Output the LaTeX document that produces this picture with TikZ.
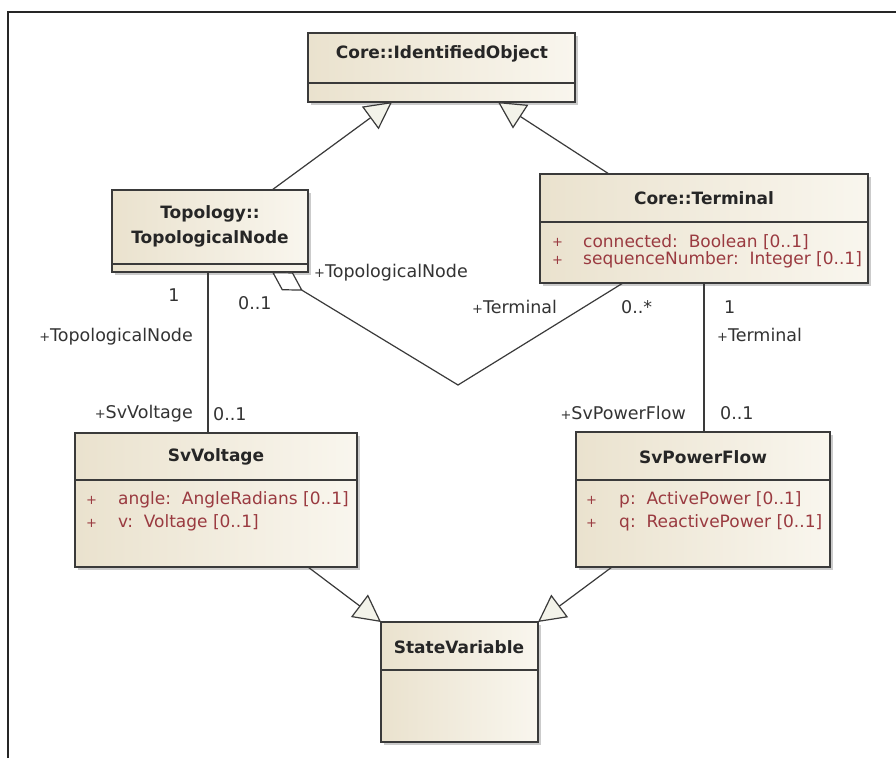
\documentclass[tikz,border=0pt]{standalone}
\usepackage{fontspec}
\setmainfont{DejaVu Sans}
\usetikzlibrary{arrows.meta,shadows,calc}

\definecolor{ink}{HTML}{3A3A3A}
\definecolor{boxA}{HTML}{EAE2CE}
\definecolor{boxB}{HTML}{F9F6EE}
\definecolor{attrred}{HTML}{9A3A40}
\definecolor{headfill}{HTML}{F3F3EA}

% small visibility marker used in front of roles and attributes
\newcommand{\vplus}{{\fontsize{13}{13}\selectfont+}}

\tikzset{
  classbox/.style={draw=ink, line width=1.4pt, left color=boxA, right color=boxB,
    inner sep=0pt, outer sep=0pt, anchor=north west,
    drop shadow={shadow xshift=3pt, shadow yshift=-3pt, fill=black!40, opacity=.5}},
  divider/.style={draw=ink, line width=1.4pt},
  classtitle/.style={font=\bfseries\fontsize{17}{25}\selectfont, text=black!85,
    align=center, inner sep=0pt},
  attrtext/.style={font=\fontsize{17}{19}\selectfont, text=attrred, anchor=west, inner sep=0pt},
  roletext/.style={font=\fontsize{17.5}{19}\selectfont, text=black!80, inner sep=0pt},
  conn/.style={draw=ink, line width=1.2pt},
  gen/.style={conn, -{Triangle[open, length=27pt, width=28pt, fill=headfill]}},
  agg/.style={conn, {Diamond[open, length=36pt, width=21pt, fill=white]}-},
}

\begin{document}
\begin{tikzpicture}[x=1pt, y=-1pt]
  \useasboundingbox (0,0) rectangle (896,758);
  \fill[white] (0,0) rectangle (896,758);

  % outer frame (top and left edges)
  \draw[black!85, line width=2pt] (8,758) -- (8,12) -- (896,12);

  % ---- classes ----
  \node[classbox, minimum width=267pt, minimum height=69pt] (io) at (308,33) {};
  \draw[divider] ([yshift=-50pt]io.north west) -- ([yshift=-50pt]io.north east);
  \node[classtitle] (ioT) at (442,54) {Core::IdentifiedObject};

  \node[classbox, minimum width=196pt, minimum height=82pt] (tn) at (112,190) {};
  \draw[divider] ([yshift=-74pt]tn.north west) -- ([yshift=-74pt]tn.north east);
  \node[classtitle] (tnT) at (210,226) {Topology::\\TopologicalNode};

  \node[classbox, minimum width=328pt, minimum height=109pt] (term) at (540,174) {};
  \draw[divider] ([yshift=-48pt]term.north west) -- ([yshift=-48pt]term.north east);
  \node[classtitle] (termT) at (704,198) {Core::Terminal};
  \node[attrtext] (termA1) at (552,242) {\vplus};
  \node[attrtext] (termA2) at (583,242) {connected:\ \ Boolean [0..1]};
  \node[attrtext] (termA3) at (552,260) {\vplus};
  \node[attrtext] (termA4) at (583,260) {sequenceNumber:\ \ Integer [0..1]};

  \node[classbox, minimum width=282pt, minimum height=134pt] (svv) at (75,433) {};
  \draw[divider] ([yshift=-47pt]svv.north west) -- ([yshift=-47pt]svv.north east);
  \node[classtitle] (svvT) at (216,457) {SvVoltage};
  \node[attrtext] (svvA1) at (86,500) {\vplus};
  \node[attrtext] (svvA2) at (118,500) {angle:\ \ AngleRadians [0..1]};
  \node[attrtext] (svvA3) at (86,523) {\vplus};
  \node[attrtext] (svvA4) at (118,523) {v:\ \ Voltage [0..1]};

  \node[classbox, minimum width=254pt, minimum height=135pt] (spf) at (576,432) {};
  \draw[divider] ([yshift=-48pt]spf.north west) -- ([yshift=-48pt]spf.north east);
  \node[classtitle] (spfT) at (703,457) {SvPowerFlow};
  \node[attrtext] (spfA1) at (586,500) {\vplus};
  \node[attrtext] (spfA2) at (619,500) {p:\ \ ActivePower [0..1]};
  \node[attrtext] (spfA3) at (586,523) {\vplus};
  \node[attrtext] (spfA4) at (619,523) {q:\ \ ReactivePower [0..1]};

  \node[classbox, minimum width=157pt, minimum height=120pt] (sv) at (381,622) {};
  \draw[divider] ([yshift=-48pt]sv.north west) -- ([yshift=-48pt]sv.north east);
  \node[classtitle] (svT) at (459,647) {StateVariable};

  % ---- generalizations ----
  \draw[gen] ([xshift=160pt]tn.north west) -- ([xshift=84pt]io.south west);
  \draw[gen] ([xshift=69pt]term.north west) -- ([xshift=190pt]io.south west);
  \draw[gen] ([xshift=233pt]svv.south west) -- (sv.north west);
  \draw[gen] ([xshift=36pt]spf.south west) -- (sv.north east);

  % ---- associations ----
  \coordinate (bend) at (458,385);
  \draw[agg] ([xshift=160pt]tn.south west) -- (bend) -- ([xshift=83pt]term.south west);
  \draw[conn] ([xshift=-2pt]tn.south) -- ([xshift=-2pt]tn.south |- svv.north);
  \draw[conn] (term.south) -- (term.south |- spf.north);

  % ---- role names and multiplicities ----
  \node[roletext, anchor=west] (r1) at (314,273) {\vplus TopologicalNode};
  \node[roletext] (m1) at (174,295) {1};
  \node[roletext, anchor=west] (m2) at (238,303) {0..1};
  \node[roletext, anchor=east] (r2) at (193,337) {\vplus TopologicalNode};
  \node[roletext, anchor=east] (r3) at (193,414) {\vplus SvVoltage};
  \node[roletext, anchor=west] (m3) at (213,414) {0..1};

  \node[roletext, anchor=west] (r4) at (472,307) {\vplus Terminal};
  \node[roletext, anchor=west] (m4) at (621,307) {0..*};
  \node[roletext, anchor=west] (m5) at (724,307) {1};
  \node[roletext, anchor=west] (r5) at (717,335) {\vplus Terminal};
  \node[roletext, anchor=east] (r6) at (686,413) {\vplus SvPowerFlow};
  \node[roletext, anchor=west] (m6) at (720,413) {0..1};
\end{tikzpicture}
\end{document}
